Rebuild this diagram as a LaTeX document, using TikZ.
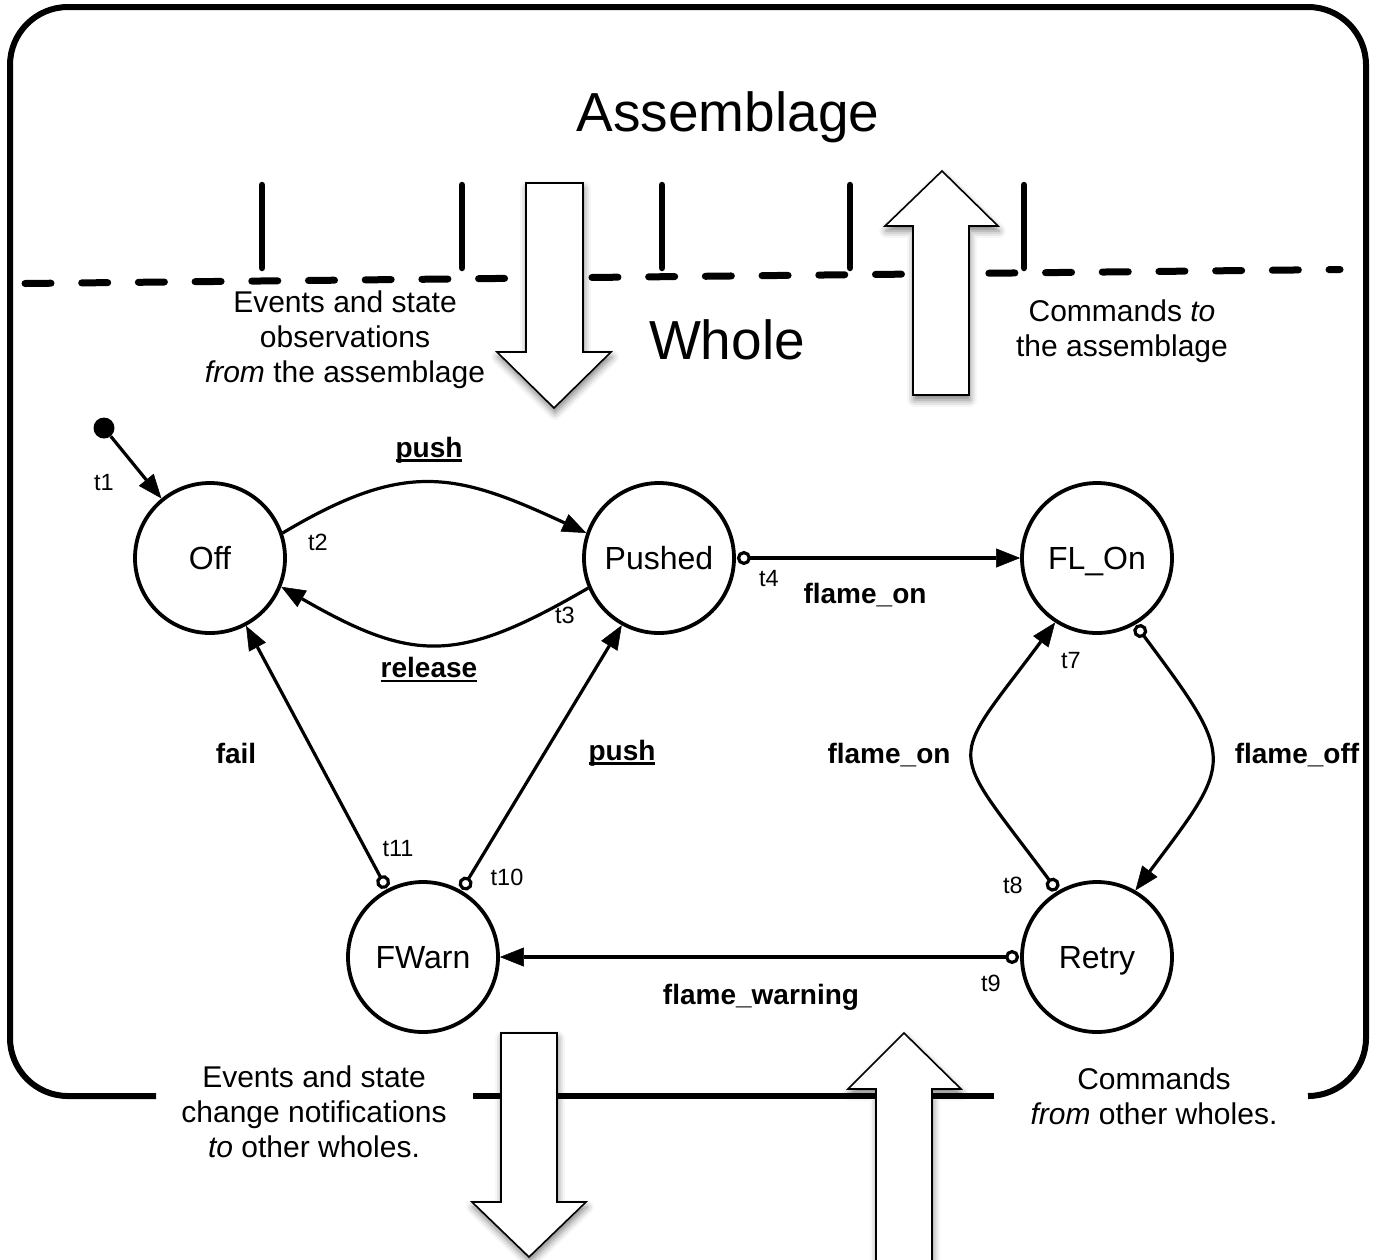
\documentclass[tikz,border=0pt]{standalone}
\usepackage{fontspec}
\setmainfont{Liberation Sans}
\usetikzlibrary{arrows.meta,shadows.blur}

% font size helper and a thick underline for event names
\newcommand{\fsz}[2]{\fontsize{#1}{#2}\selectfont}
\newcommand{\undr}[1]{\setbox0\hbox{#1}\leavevmode\rlap{\rule[-4.5pt]{\wd0}{2.6pt}}\box0}

\tikzset{
  frame/.style={line width=6pt, rounded corners=58pt},
  dashline/.style={line width=7pt, line cap=round, dash pattern=on 26pt off 30.7pt},
  tick/.style={line width=6.5pt, line cap=round},
  bigarrow/.style={fill=white, draw=black, line width=1.6pt, line join=miter,
    blur shadow={shadow xshift=1pt, shadow yshift=-5pt, shadow blur radius=7pt, shadow opacity=50}},
  state/.style={circle, draw, line width=3.8pt, minimum size=150pt, inner sep=0pt,
    text height=23pt, text depth=0pt, font=\fsz{32}{38}},
  dot/.style={circle, fill=black, minimum size=21pt, inner sep=0pt},
  head/.tip={Triangle[length=24pt,width=19pt,fill=black,line width=0.5pt]},
  trans/.style={line width=3.2pt, -head},
  porttrans/.style={line width=3.2pt, {Circle[open,length=14pt,width=14pt]}-head, shorten <=1pt},
  tlab/.style={font=\fsz{23.5}{28}, inner sep=0pt},
  evlab/.style={font=\fsz{28}{33}\bfseries, inner sep=0pt},
  desc/.style={font=\fsz{30}{35}, align=center, inner sep=0pt},
  big/.style={font=\fsz{55}{60}, inner sep=0pt}
}

\begin{document}
\begin{tikzpicture}[x=1pt,y=-1pt]
\useasboundingbox (0,0) rectangle (1373,1259);

% outline of the whole, open where the lower captions sit
\draw[frame] (156,1096) -- (10,1096) -- (10,7) -- (1366,7) -- (1366,1096) -- (1308,1096);
\draw[frame] (473,1096) -- (994,1096);

% boundary between assemblage and whole, with its parts
\draw[dashline] (25,283.5) -- (1340,269.5);
\foreach \tx in {262,462,662,850,1024}
  \draw[tick] (\tx,185) -- (\tx,268);

% flow arrows across the boundaries
\draw[bigarrow] (526,183) -- (583,183) -- (583,352) -- (611,352) -- (554,408) -- (497,352) -- (526,352) -- cycle;
\draw[bigarrow] (913,395) -- (913,226) -- (885,226) -- (942,171) -- (998,226) -- (969,226) -- (969,395) -- cycle;
\draw[bigarrow] (501,1033) -- (557,1033) -- (557,1202) -- (586,1202) -- (529,1257) -- (472,1202) -- (501,1202) -- cycle;
\draw[bigarrow] (876,1262) -- (876,1089) -- (848,1089) -- (904,1033) -- (961,1089) -- (932,1089) -- (932,1262) -- cycle;

% headings and captions
\node[big] (assem) at (728,117) {Assemblage};
\node[big] (whole) at (727,340) {Whole};
\node[desc] (obsin) at (345,340) {Events and state\\observations\\\emph{from} the assemblage};
\node[desc] (cmdout) at (1122,331) {Commands \emph{to}\\the assemblage};
\node[desc] (notifout) at (314,1112) {Events and state\\change notifications\\\emph{to} other wholes.};
\node[desc] (cmdin) at (1154,1096) {Commands\\\emph{from} other wholes.};

% states
\node[state] (off) at (210,558) {Off};
\node[state] (pushed) at (659,558) {Pushed};
\node[state] (flon) at (1097,558) {FL\_On};
\node[state] (fwarn) at (423,957) {FWarn};
\node[state] (retry) at (1097,957) {Retry};
\node[dot] (init) at (104,428) {};

% transitions
\draw[trans] (init) -- (off);
\draw[trans] (off.19) .. controls (405,460) and (455,472) .. (pushed.161);
\draw[trans] (pushed.203) .. controls (459,663) and (415,664) .. (off.338);
\draw[porttrans] (pushed.east) -- (flon.west);
\draw[porttrans] (flon.300) .. controls (1237,761) and (1234,759) .. (retry.60);
\draw[porttrans] (retry.121) .. controls (946,741) and (946,769) .. (flon.237);
\draw[porttrans] (retry.west) -- (fwarn.east);
\draw[porttrans] (fwarn.118) -- (off.298);
\draw[porttrans] (fwarn.60) -- (pushed.241);

% transition names
\node[tlab] (lt1) at (104,482) {t1};
\node[tlab] (lt2) at (318,542) {t2};
\node[tlab] (lt3) at (565,615) {t3};
\node[tlab] (lt4) at (769,578) {t4};
\node[tlab] (lt7) at (1071,660) {t7};
\node[tlab] (lt8) at (1013,885) {t8};
\node[tlab] (lt9) at (991,983) {t9};
\node[tlab] (lt10) at (507,877) {t10};
\node[tlab] (lt11) at (398,848) {t11};

% events
\node[evlab] (epush) at (429,450) {\undr{push}};
\node[evlab] (erel) at (429,670) {\undr{release}};
\node[evlab] (eflon) at (865,595) {flame\_on};
\node[evlab] (efail) at (236,753) {fail};
\node[evlab] (epush2) at (622,753) {\undr{push}};
\node[evlab] (eflon2) at (889,755) {flame\_on};
\node[evlab] (efloff) at (1297,755) {flame\_off};
\node[evlab] (ewarn) at (761,997) {flame\_warning};
\end{tikzpicture}
\end{document}
